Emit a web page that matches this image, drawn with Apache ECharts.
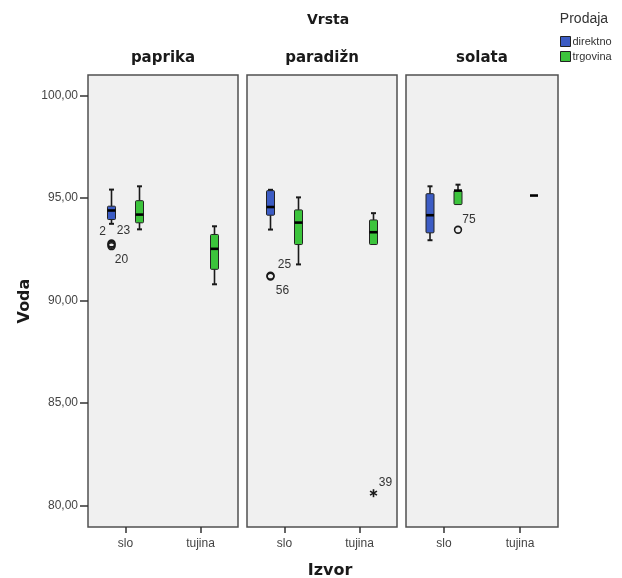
<!DOCTYPE html>
<html>
<head>
<meta charset="utf-8">
<script src="https://cdn.jsdelivr.net/npm/echarts@6/dist/echarts.min.js"></script>
<style>html,body{margin:0;padding:0;background:#fff}#c{width:622px;height:578px}</style>
</head>
<body>
<div id="c"></div>
<script>
// ---------------- data ----------------
const panels = ['paprika', 'paradižn', 'solata'];
const sources = ['slo', 'tujina'];
const seriesNames = ['direktno', 'trgovina'];
const yTicks = [80, 85, 90, 95, 100];
// box values per panel, per source: [low whisker, Q1, median, Q3, high whisker] (null = no data)
const direktnoBoxes = [
  [[93.74, 93.95, 94.39, 94.60, 95.41], null],
  [[93.46, 94.16, 94.56, 95.36, 95.40], null],
  [[92.94, 93.30, 94.16, 95.21, 95.57], null]
];
const trgovinaBoxes = [
  [[93.47, 93.79, 94.19, 94.87, 95.57], [90.79, 91.52, 92.52, 93.22, 93.62]],
  [[91.76, 92.73, 93.80, 94.42, 95.03], [92.73, 92.73, 93.33, 93.93, 94.26]],
  [[94.68, 94.68, 95.36, 95.36, 95.65], [95.12, 95.12, 95.12, 95.12, 95.12]]
];
// outliers
const outlierValues   = [92.78, 92.72, 92.65, 91.21, 91.17, 80.60, 93.45];
const outlierCases    = ['2', '23', '20', '25', '56', '39', '75'];
const outlierPanel    = [0, 0, 0, 1, 1, 1, 2];
const outlierSource   = [0, 0, 0, 0, 0, 1, 0];
const outlierSeries   = [0, 0, 0, 0, 0, 1, 1];
const outlierExtreme  = [false, false, false, false, false, true, false];

// ---------------- style / layout ----------------
const labelOffsets = [[-9, -12], [12, -14], [10, 14], [14, -11], [12, 14], [12, -10], [11, -10]];
const colors = ['#3c5cc4', '#3cc43c'];
const seriesOffset = [-14, 14];
const gridLeft = [88, 247, 406];
const gridWidth = [150, 150, 152];
const gridTop = 75, gridHeight = 452;
const yMin = 78.95, yMax = 101.0;
const tickFont = 'Liberation Sans, Arial, sans-serif';
const boldFont = 'DejaVu Sans, sans-serif';

const chart = echarts.init(document.getElementById('c'));

const grids = [], xAxes = [], yAxes = [], series = [], graphics = [];

panels.forEach((p, pi) => {
  grids.push({
    left: gridLeft[pi], top: gridTop, width: gridWidth[pi], height: gridHeight,
    show: true, backgroundColor: '#f0f0f0', borderColor: '#505050', borderWidth: 1.5
  });
  xAxes.push({
    type: 'category', gridIndex: pi, data: sources,
    axisLine: { show: false },
    axisTick: { show: true, alignWithLabel: true, interval: 0, length: 6, lineStyle: { color: '#333', width: 1.5 } },
    axisLabel: { interval: 0, margin: 11, color: '#444', fontSize: 12, fontFamily: tickFont },
    splitLine: { show: false }
  });
  yAxes.push({
    type: 'value', gridIndex: pi, min: yMin, max: yMax,
    axisLine: { show: false },
    splitLine: { show: false },
    axisTick: { show: pi === 0, length: 8, customValues: yTicks, lineStyle: { color: '#333', width: 1.5 } },
    axisLabel: {
      show: pi === 0, customValues: yTicks, margin: 10, color: '#444', fontSize: 12, fontFamily: tickFont,
      formatter: v => v.toFixed(2).replace('.', ',')
    }
  });
  graphics.push({
    type: 'text', x: gridLeft[pi] + gridWidth[pi] / 2, y: 58,
    style: { text: p, textAlign: 'center', textVerticalAlign: 'middle', font: 'bold 15px ' + boldFont, fill: '#1a1a1a' }
  });

  [direktnoBoxes, trgovinaBoxes].forEach((boxes, si) => {
    const data = [];
    boxes[pi].forEach((b, ci) => { if (b) data.push([ci].concat(b)); });
    const off = seriesOffset[si];
    series.push({
      type: 'custom', name: seriesNames[si], xAxisIndex: pi, yAxisIndex: pi,
      itemStyle: { color: colors[si] },
      encode: { x: 0, y: [1, 2, 3, 4, 5] },
      data: data,
      renderItem: function (params, api) {
        const c = api.value(0);
        const yv = i => api.coord([c, api.value(i)])[1];
        const cx = api.coord([c, api.value(3)])[0] + off;
        const yLow = yv(1), yQ1 = yv(2), yMed = yv(3), yQ3 = yv(4), yHigh = yv(5);
        const w = 8, cap = 2.5;
        const ch = [];
        const ls = { stroke: '#1a1a1a', lineWidth: 1.6 };
        if (yQ3 - yHigh > 0.5) {
          ch.push({ type: 'line', shape: { x1: cx, y1: yQ3, x2: cx, y2: yHigh }, style: ls });
          ch.push({ type: 'line', shape: { x1: cx - cap, y1: yHigh, x2: cx + cap, y2: yHigh }, style: { stroke: '#1a1a1a', lineWidth: 2 } });
        }
        if (yLow - yQ1 > 0.5) {
          ch.push({ type: 'line', shape: { x1: cx, y1: yQ1, x2: cx, y2: yLow }, style: ls });
          ch.push({ type: 'line', shape: { x1: cx - cap, y1: yLow, x2: cx + cap, y2: yLow }, style: { stroke: '#1a1a1a', lineWidth: 2 } });
        }
        if (yQ1 - yQ3 > 0.5) {
          ch.push({ type: 'rect', shape: { x: cx - w / 2, y: yQ3, width: w, height: yQ1 - yQ3, r: 1 },
            style: { fill: colors[si], stroke: '#222', lineWidth: 1 } });
        }
        ch.push({ type: 'line', shape: { x1: cx - w / 2, y1: yMed, x2: cx + w / 2, y2: yMed }, style: { stroke: '#000', lineWidth: 2.6 } });
        return { type: 'group', children: ch };
      }
    });
  });

  // outliers for this panel
  const odata = [];
  outlierValues.forEach((v, i) => { if (outlierPanel[i] === pi) odata.push([outlierSource[i], v, i]); });
  series.push({
    type: 'custom', name: 'outliers-' + pi, xAxisIndex: pi, yAxisIndex: pi,
    encode: { x: 0, y: 1 },
    data: odata,
    z: 5,
    renderItem: function (params, api) {
      const idx = api.value(2);
      const pt = api.coord([api.value(0), api.value(1)]);
      const cx = pt[0] + seriesOffset[outlierSeries[idx]], cy = pt[1];
      const ch = [];
      if (outlierExtreme[idx]) {
        for (let k = 0; k < 3; k++) {
          const a = Math.PI / 2 + k * Math.PI / 3, r = 4;
          ch.push({ type: 'line', shape: { x1: cx - r * Math.cos(a), y1: cy - r * Math.sin(a), x2: cx + r * Math.cos(a), y2: cy + r * Math.sin(a) },
            style: { stroke: '#1a1a1a', lineWidth: 1.6 } });
        }
      } else {
        ch.push({ type: 'circle', shape: { cx: cx, cy: cy, r: 3.4 }, style: { fill: 'none', stroke: '#1a1a1a', lineWidth: 1.6 } });
      }
      const o = labelOffsets[idx];
      ch.push({ type: 'text', x: cx + o[0], y: cy + o[1],
        style: { text: outlierCases[idx], textAlign: 'center', textVerticalAlign: 'middle', font: '12px ' + tickFont, fill: '#333' } });
      return { type: 'group', children: ch };
    }
  });
});

graphics.push(
  { type: 'text', x: 328, y: 20, style: { text: 'Vrsta', textAlign: 'center', textVerticalAlign: 'middle', font: 'bold 14px ' + boldFont, fill: '#1a1a1a' } },
  { type: 'text', x: 330, y: 571, style: { text: 'Izvor', textAlign: 'center', textVerticalAlign: 'middle', font: 'bold 16px ' + boldFont, fill: '#1a1a1a' } },
  { type: 'text', x: 25, y: 301, rotation: Math.PI / 2, style: { text: 'Voda', textAlign: 'center', textVerticalAlign: 'middle', font: 'bold 16px ' + boldFont, fill: '#1a1a1a' } },
  { type: 'text', x: 584, y: 19, style: { text: 'Prodaja', textAlign: 'center', textVerticalAlign: 'middle', font: '14px ' + tickFont, fill: '#333' } }
);

chart.setOption({
  backgroundColor: '#fff',
  animation: false,
  grid: grids,
  xAxis: xAxes,
  yAxis: yAxes,
  legend: {
    data: seriesNames, orient: 'vertical', left: 560, top: 36, padding: 0,
    itemWidth: 10, itemHeight: 10, itemGap: 4, icon: 'rect',
    itemStyle: { borderColor: '#222', borderWidth: 1 },
    textStyle: { fontSize: 11, color: '#333', fontFamily: tickFont, padding: [0, 0, 0, -3] },
    selectedMode: false
  },
  graphic: graphics,
  series: series
});
</script>
</body>
</html>
